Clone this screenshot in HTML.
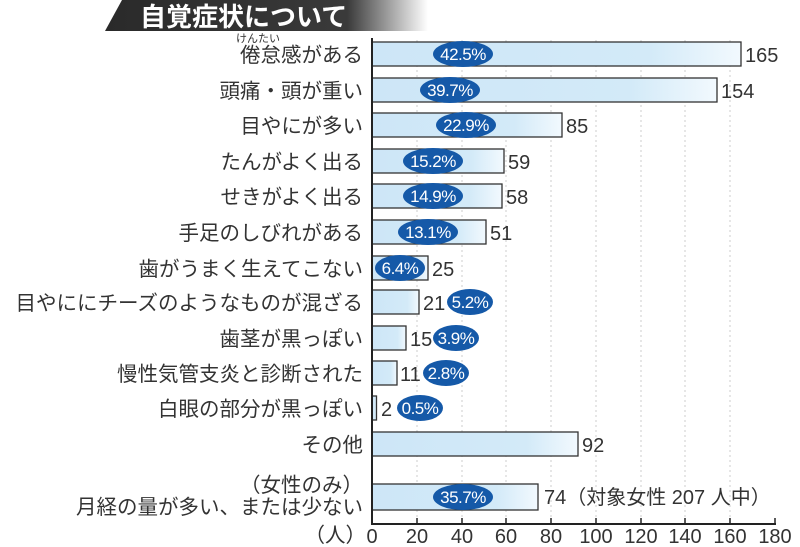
<!DOCTYPE html>
<html><head><meta charset="utf-8"><style>
body{margin:0;background:#fff}
svg{display:block}
text{font-family:"Liberation Sans","Noto Sans CJK JP",sans-serif}
</style></head><body>
<svg width="800" height="547" viewBox="0 0 800 547" xmlns="http://www.w3.org/2000/svg">
<defs>
<linearGradient id="tg" x1="0" x2="1"><stop offset="0" stop-color="#2a2a2a"/><stop offset="0.75" stop-color="#3a3a3a"/><stop offset="1" stop-color="#fff"/></linearGradient>
<linearGradient id="bg" x1="0" x2="1"><stop offset="0" stop-color="#cde6f7"/><stop offset="0.75" stop-color="#d3eaf8"/><stop offset="1" stop-color="#f2f9fe"/></linearGradient>
</defs>
<polygon points="122,0 428,0 428,31 105,31" fill="url(#tg)"/>
<text x="140" y="26" font-size="26" font-weight="bold" fill="#fff">自覚症状について</text>
<g stroke="#ccc" stroke-dasharray="2,3" stroke-width="1">
<line x1="417" y1="40" x2="417" y2="524"/><line x1="462" y1="40" x2="462" y2="524"/><line x1="506" y1="40" x2="506" y2="524"/><line x1="551" y1="40" x2="551" y2="524"/><line x1="596" y1="40" x2="596" y2="524"/><line x1="641" y1="40" x2="641" y2="524"/><line x1="685" y1="40" x2="685" y2="524"/><line x1="730" y1="40" x2="730" y2="524"/>
</g>
<g stroke="#333" stroke-width="1.3" fill="url(#bg)">
<rect x="372" y="42" width="369" height="24"/>
<rect x="372" y="78" width="345" height="24"/>
<rect x="372" y="113" width="190" height="24"/>
<rect x="372" y="149" width="132" height="24"/>
<rect x="372" y="184" width="130" height="24"/>
<rect x="372" y="220" width="114" height="24"/>
<rect x="372" y="256" width="56" height="24"/>
<rect x="372" y="290" width="47" height="24"/>
<rect x="372" y="326" width="34" height="24"/>
<rect x="372" y="361" width="25" height="24"/>
<rect x="372" y="396" width="4.5" height="24"/>
<rect x="372" y="432" width="206" height="24"/>
<rect x="372" y="484" width="166" height="26"/>
</g>
<line x1="372" y1="38" x2="372" y2="525" stroke="#222" stroke-width="2"/>
<line x1="371" y1="524" x2="776" y2="524" stroke="#222" stroke-width="2"/>
<g stroke="#222" stroke-width="1.5">
<line x1="417" y1="518" x2="417" y2="524"/><line x1="462" y1="518" x2="462" y2="524"/><line x1="506" y1="518" x2="506" y2="524"/><line x1="551" y1="518" x2="551" y2="524"/><line x1="596" y1="518" x2="596" y2="524"/><line x1="641" y1="518" x2="641" y2="524"/><line x1="685" y1="518" x2="685" y2="524"/><line x1="730" y1="518" x2="730" y2="524"/><line x1="775" y1="518" x2="775" y2="524"/>
</g>
<g font-size="20" fill="#333" text-anchor="middle">
<text x="372" y="543">0</text><text x="417" y="543">20</text><text x="462" y="543">40</text><text x="506" y="543">60</text><text x="551" y="543">80</text><text x="596" y="543">100</text><text x="641" y="543">120</text><text x="685" y="543">140</text><text x="730" y="543">160</text><text x="775" y="543">180</text>
</g>
<g font-size="20.5" fill="#333" text-anchor="end">
<text x="363" y="62">倦怠感がある</text>
<text x="363" y="98">頭痛・頭が重い</text>
<text x="363" y="133">目やにが多い</text>
<text x="363" y="169">たんがよく出る</text>
<text x="363" y="204">せきがよく出る</text>
<text x="363" y="240">手足のしびれがある</text>
<text x="363" y="276">歯がうまく生えてこない</text>
<text x="363" y="310">目やににチーズのようなものが混ざる</text>
<text x="363" y="346">歯茎が黒っぽい</text>
<text x="363" y="381">慢性気管支炎と診断された</text>
<text x="363" y="416">白眼の部分が黒っぽい</text>
<text x="363" y="452">その他</text>
<text x="363" y="492">（女性のみ）</text>
<text x="363" y="514">月経の量が多い、または少ない</text>
<text x="366" y="542">（人）</text>
</g>
<text x="236" y="42" font-size="11" fill="#333">けんたい</text>
<g font-size="20" fill="#333">
<text x="745" y="62">165</text><text x="721" y="98">154</text><text x="566" y="133">85</text><text x="508" y="169">59</text><text x="506" y="204">58</text><text x="490" y="240">51</text><text x="432" y="276">25</text><text x="423" y="310">21</text><text x="410" y="346">15</text><text x="400" y="381">11</text><text x="381" y="416">2</text><text x="582" y="452">92</text><text x="544" y="504">74（対象女性 207 人中）</text>
</g>
<g fill="#1559a8">
<ellipse cx="463" cy="54" rx="30" ry="13"/><ellipse cx="450" cy="90" rx="30" ry="13"/><ellipse cx="466" cy="125" rx="30" ry="13"/><ellipse cx="433" cy="161" rx="30" ry="13"/><ellipse cx="433" cy="196" rx="30" ry="13"/><ellipse cx="428" cy="232" rx="30" ry="13"/><ellipse cx="400" cy="268" rx="25" ry="13"/><ellipse cx="470" cy="302" rx="23" ry="13"/><ellipse cx="456" cy="338" rx="23" ry="13"/><ellipse cx="446" cy="373" rx="23" ry="13"/><ellipse cx="420" cy="408" rx="23" ry="13"/><ellipse cx="463" cy="497" rx="30" ry="13"/>
</g>
<g font-size="17" fill="#fff" text-anchor="middle" letter-spacing="-0.5">
<text x="463" y="60">42.5%</text><text x="450" y="96">39.7%</text><text x="466" y="131">22.9%</text><text x="433" y="167">15.2%</text><text x="433" y="202">14.9%</text><text x="428" y="238">13.1%</text><text x="400" y="274">6.4%</text><text x="470" y="308">5.2%</text><text x="456" y="344">3.9%</text><text x="446" y="379">2.8%</text><text x="420" y="414">0.5%</text><text x="463" y="503">35.7%</text>
</g>
</svg>
</body></html>
